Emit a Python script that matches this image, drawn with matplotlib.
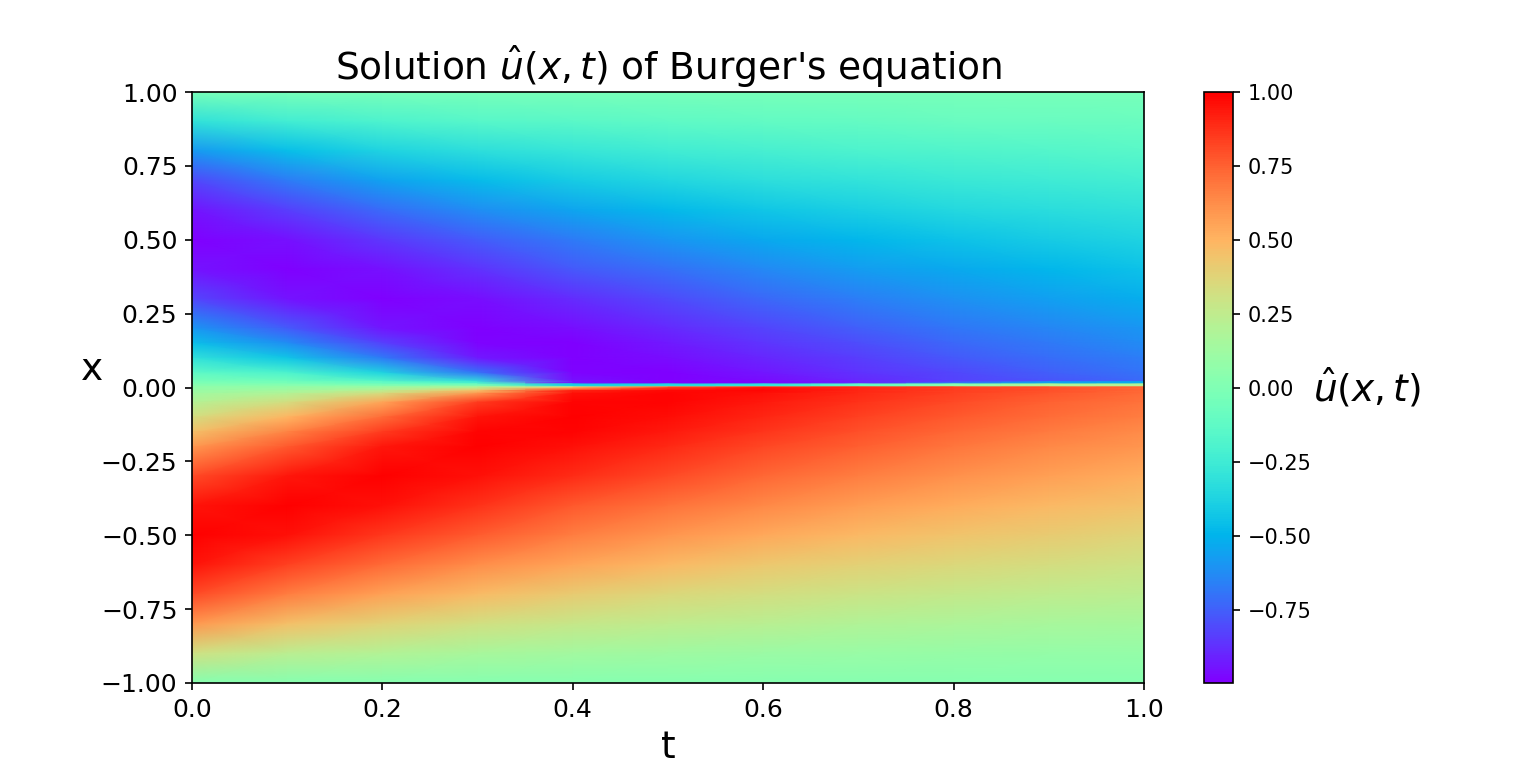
import matplotlib as mpl
mpl.use("Agg")
import matplotlib.pyplot as plt
import numpy as np

t_vals = [0.0, 0.1, 0.2, 0.3, 0.4, 0.5, 0.6, 0.7, 0.8, 0.9, 1.0]
x_vals = [1.0, 0.9, 0.8, 0.7, 0.6, 0.5, 0.4, 0.3, 0.2, 0.15, 0.1, 0.05, 0.02, 0.0195, 0.0125,
          0.0115, 0.003, 0.0015, -0.001, -0.01, -0.02, -0.05, -0.1, -0.15, -0.2, -0.3, -0.4,
          -0.5, -0.6, -0.7, -0.8, -0.9, -1.0]

# u(x, t), one row per x, top of the plot first
u_top = [
    [-0.03, -0.03, -0.03, -0.03, -0.03, -0.03, -0.03, -0.03, -0.03, -0.03, -0.03],
    [-0.31, -0.235, -0.2, -0.16, -0.14, -0.125, -0.11, -0.1, -0.09, -0.085, -0.08],
    [-0.59, -0.46, -0.38, -0.32, -0.28, -0.245, -0.22, -0.195, -0.18, -0.165, -0.15],
    [-0.81, -0.67, -0.56, -0.47, -0.41, -0.36, -0.325, -0.295, -0.27, -0.25, -0.23],
    [-0.95, -0.835, -0.72, -0.62, -0.55, -0.48, -0.43, -0.39, -0.355, -0.33, -0.305],
    [-1.0, -0.955, -0.855, -0.76, -0.67, -0.595, -0.535, -0.485, -0.445, -0.41, -0.375],
    [-0.95, -1.0, -0.955, -0.87, -0.77, -0.703, -0.635, -0.575, -0.53, -0.485, -0.45],
    [-0.81, -0.945, -1.0, -0.96, -0.885, -0.805, -0.73, -0.665, -0.61, -0.565, -0.52],
    [-0.59, -0.76, -0.935, -1.0, -0.96, -0.895, -0.82, -0.755, -0.69, -0.64, -0.595],
    [-0.454, -0.62, -0.83, -0.985, -0.99, -0.93, -0.86, -0.795, -0.73, -0.68, -0.63],
    [-0.31, -0.43, -0.67, -0.93, -1.0, -0.965, -0.9, -0.835, -0.77, -0.715, -0.665],
    [-0.13, -0.2, -0.38, -0.7, -0.985, -0.99, -0.935, -0.87, -0.81, -0.75, -0.7],
    [-0.02, -0.05, -0.14, -0.3, -0.95, -0.99, -0.97, -0.9, -0.83, -0.78, -0.725],
]
# the thin layer around the shock
u_shock = [
    [-0.02, -0.05, -0.13, -0.28, -0.95, -0.99, -0.97, -0.9, -0.8, -0.6, -0.55],
    [0.0, -0.02, -0.08, -0.14, -0.95, -0.99, -0.97, -0.88, -0.6, -0.5, -0.5],
    [0.01, 0.0, -0.06, -0.1, -0.42, -0.38, -0.32, -0.12, 0.05, 0.2, 0.2],
    [0.06, 0.07, 0.08, 0.12, -0.35, -0.3, -0.26, -0.1, 0.05, 0.2, 0.2],
    [0.07, 0.08, 0.1, 0.18, 0.3, 0.7, 0.8, 0.85, 0.8, 0.75, 0.7],
    [0.07, 0.09, 0.12, 0.22, 0.5, 0.85, 0.95, 0.9, 0.84, 0.79, 0.73],
]
u_bottom = [
    [0.1, 0.14, 0.22, 0.45, 0.9, 0.97, 0.98, 0.9, 0.84, 0.79, 0.73],
    [0.13, 0.2, 0.34, 0.6, 0.96, 0.99, 0.96, 0.895, 0.83, 0.78, 0.725],
    [0.21, 0.33, 0.55, 0.85, 0.985, 0.99, 0.935, 0.87, 0.81, 0.75, 0.7],
    [0.33, 0.5, 0.72, 0.95, 1.0, 0.965, 0.9, 0.835, 0.77, 0.715, 0.665],
    [0.46, 0.65, 0.85, 0.99, 0.99, 0.93, 0.86, 0.795, 0.73, 0.68, 0.63],
    [0.59, 0.77, 0.94, 1.0, 0.96, 0.895, 0.82, 0.755, 0.69, 0.64, 0.595],
    [0.81, 0.945, 1.0, 0.96, 0.885, 0.805, 0.73, 0.665, 0.61, 0.565, 0.52],
    [0.95, 1.0, 0.955, 0.87, 0.77, 0.703, 0.635, 0.575, 0.53, 0.485, 0.45],
    [1.0, 0.955, 0.855, 0.76, 0.67, 0.595, 0.535, 0.485, 0.445, 0.41, 0.375],
    [0.95, 0.835, 0.72, 0.62, 0.55, 0.48, 0.43, 0.39, 0.355, 0.33, 0.305],
    [0.81, 0.67, 0.56, 0.47, 0.41, 0.36, 0.325, 0.295, 0.27, 0.25, 0.23],
    [0.59, 0.46, 0.38, 0.32, 0.28, 0.245, 0.22, 0.195, 0.18, 0.165, 0.15],
    [0.31, 0.235, 0.2, 0.16, 0.14, 0.125, 0.11, 0.1, 0.09, 0.085, 0.08],
    [0.03, 0.03, 0.03, 0.03, 0.03, 0.03, 0.03, 0.03, 0.03, 0.03, 0.03],
]

u = np.array(u_top + u_shock + u_bottom)

W, H = 1536, 767
DPI = 150
fig = plt.figure(figsize=(W / DPI, H / DPI), dpi=DPI)
ax = fig.add_axes([192 / W, 1 - 683 / H, (1144 - 192) / W, (683 - 92) / H])
cax = fig.add_axes([1204 / W, 1 - 683 / H, (1233 - 1204) / W, (683 - 92) / H])

mesh = ax.pcolormesh(t_vals, x_vals, u, cmap="rainbow", shading="gouraud", vmin=-0.997, vmax=1.0)
ax.set_xlim(0, 1)
ax.set_ylim(-1, 1)
ax.set_yticks(np.arange(-1, 1.01, 0.25))
ax.tick_params(labelsize=12)
ax.set_xlabel("t", fontsize=18)
ax.set_ylabel("x", fontsize=18, rotation=0)
ax.set_title(r"Solution $\hat{u}(x,t)$ of Burger's equation", fontsize=18)

cbar = fig.colorbar(mesh, cax=cax)
cbar.set_ticks(np.arange(-0.75, 1.01, 0.25))
cbar.ax.tick_params(labelsize=10)
cbar.ax.set_ylabel(r"$\hat{u}(x,t)$", fontsize=18, rotation=0, labelpad=26.5, va="center")

fig.savefig("out.png", dpi=DPI)
